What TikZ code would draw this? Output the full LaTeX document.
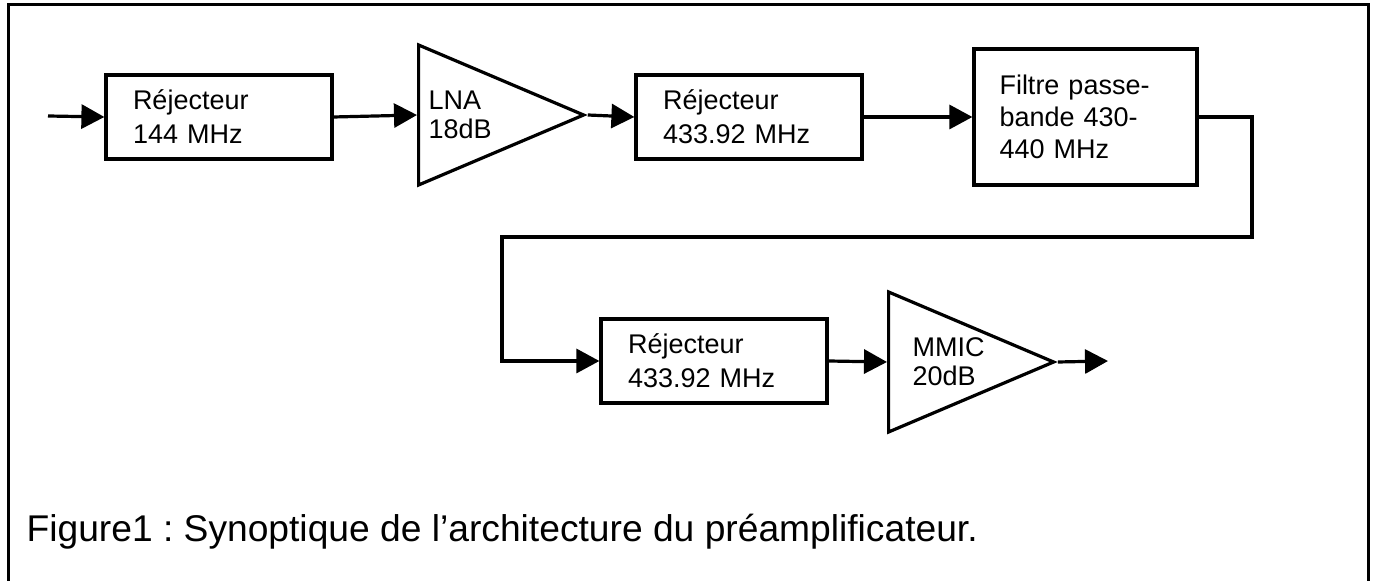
\documentclass[tikz,border=0pt]{standalone}
\usepackage{fontspec}
\setmainfont{Liberation Sans}
\frenchspacing
\usetikzlibrary{positioning,shapes.geometric,arrows.meta}

\begin{document}
\begin{tikzpicture}[x=0.5pt,y=-0.5pt,line width=1.6pt,font=\fontsize{13.5}{17}\selectfont]
\tikzstyle{box node}=[draw,line width=1.6pt,align=left,text width=86pt,inner xsep=13.5pt,inner ysep=0pt,minimum height=42pt]
\tikzstyle{filter node}=[box node,inner xsep=12.75pt,minimum height=68pt,font=\fontsize{13.5}{16}\selectfont]
\tikzstyle{amp node}=[draw,line width=1.6pt,isosceles triangle,isosceles triangle stretches,minimum width=70pt,minimum height=82.5pt,inner sep=0pt,anchor=lower side]
\tikzstyle{amp text}=[align=left,anchor=west,inner sep=0pt,font=\fontsize{13.5}{14.5}\selectfont]
\tikzstyle{sig arrow}=[-{Triangle[length=11.5pt,width=12pt]}]
\useasboundingbox (0,0) rectangle (1375,581);
% frame
\draw[line width=1.5pt] (8,582) -- (8,5) -- (1368,5) -- (1368,582);
% first row
\coordinate (in) at (48,116);
\node[box node] (rej1) at (219,117) {Réjecteur\\144 MHz};
\node[amp node] (lna) at (417,115) {};
\node[amp text] (lnatxt) at ([xshift=5pt]lna.lower side) {LNA\\18dB};
\node[box node] (rej2) at (749,117) {Réjecteur\\433.92 MHz};
\node[filter node] (filt) at (1085.5,117) {Filtre passe-\\bande 430-\\440 MHz};
% second row
\coordinate (turn) at (1252,237);
\coordinate (drop) at (502,237);
\node[box node] (rej3) at (714,361) {Réjecteur\\433.92 MHz};
\node[amp node] (mmic) at (887,362) {};
\node[amp text] (mmictxt) at ([xshift=12pt]mmic.lower side) {MMIC\\20dB};
\coordinate (out) at (1108,361);
% connections
\draw[sig arrow] (in) -- (rej1.west);
\draw[sig arrow] (rej1.east) -- (lna.lower side);
\draw[sig arrow] (lna.apex) -- (rej2.west);
\draw[sig arrow] (rej2.east) -- (filt.west);
\draw[sig arrow] (filt.east) -| (turn) -- (drop) |- (rej3.west);
\draw[sig arrow] (rej3.east) -- (mmic.lower side);
\draw[sig arrow] (mmic.apex) -- (out);
% caption
\node[anchor=base west,inner sep=0pt,font=\fontsize{18.6}{22}\selectfont] (caption) at (25,542) {Figure1 : Synoptique de l’architecture du préamplificateur.};
\end{tikzpicture}
\end{document}
